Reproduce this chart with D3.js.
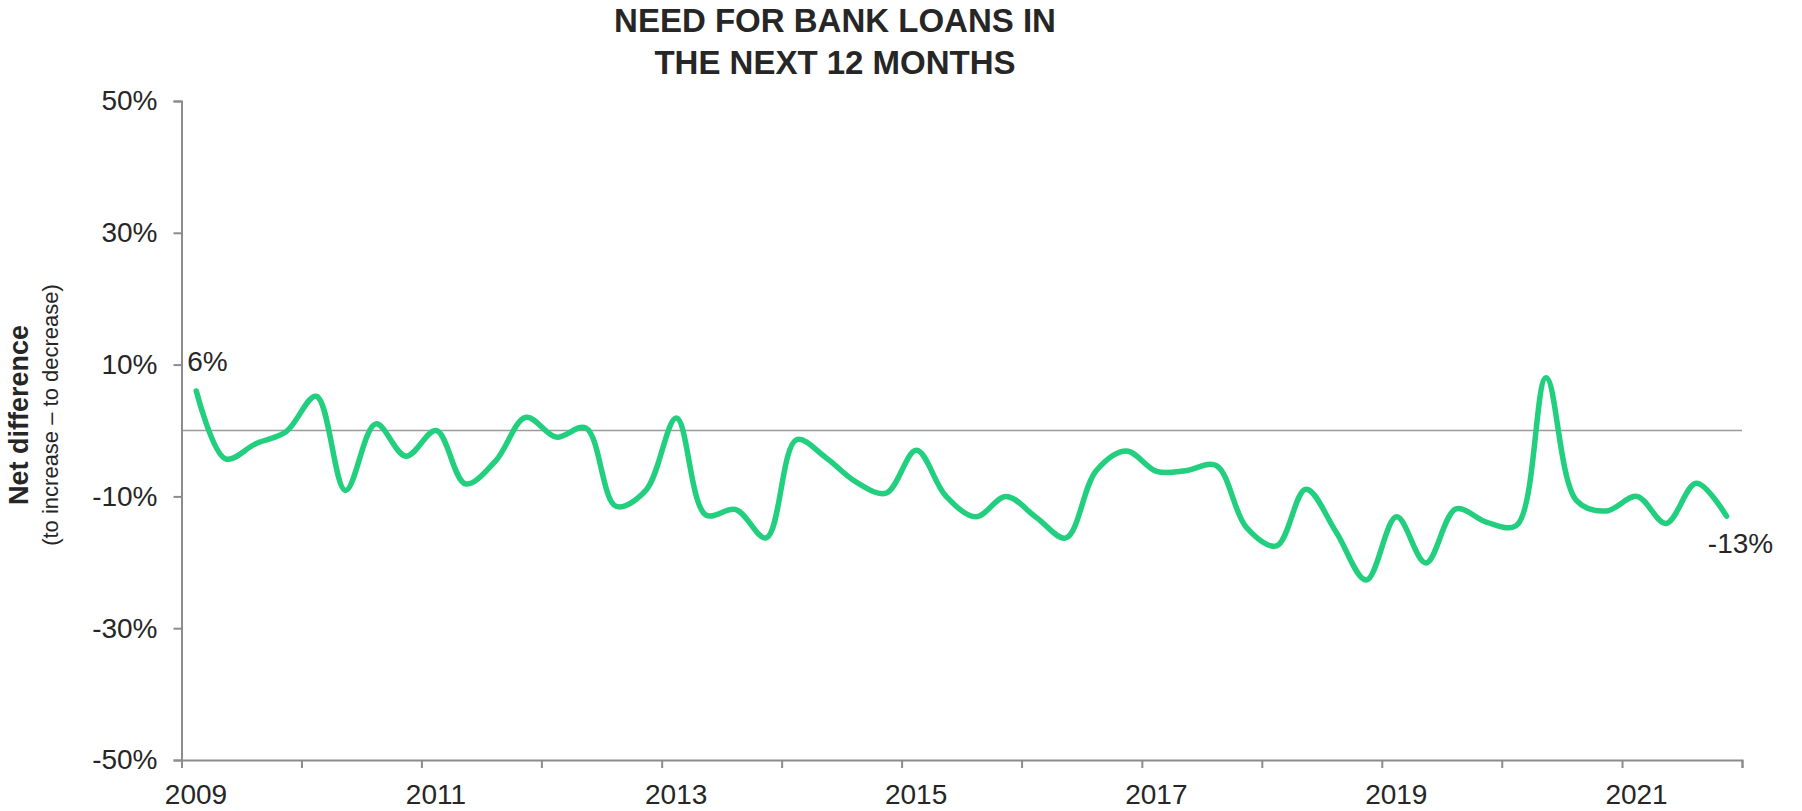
<!DOCTYPE html>
<html>
<head>
<meta charset="utf-8">
<script src="https://cdn.jsdelivr.net/npm/d3@7"></script>
<style>
  html, body { margin: 0; padding: 0; background: #ffffff; }
  svg { display: block; }
  text { font-family: "Liberation Sans", Arial, Helvetica, sans-serif; fill: #262626; }
</style>
</head>
<body>
<svg id="chart" width="1802" height="811"></svg>
<script>
// Survey periods: one reading per quarter, mid-quarter months
const years = d3.range(2009, 2022);
const months = ["02", "05", "08", "11"];
const periods = years.flatMap(y => months.map(m => `${y}-${m}-15`));

// Net difference, % of firms expecting their need for bank loans to increase minus decrease
const netDifference = [
   6.0,  -4.3,  -2.0,  -0.2,
   5.2,  -9.1,   1.0,  -3.9,
   0.0,  -8.1,  -4.6,   2.0,
  -1.0,   0.4, -11.5,  -9.0,
   1.9, -12.8, -12.0, -16.3,
  -1.4,  -4.1,  -7.8,  -9.5,
  -3.0,  -9.9, -13.1, -10.0,
 -13.2, -16.3,  -6.1,  -3.1,
  -6.2,  -6.1,  -5.3, -14.7,
 -17.5,  -8.9, -15.4, -22.7,
 -13.1, -20.1, -11.9, -13.9,
 -14.4,   8.0, -10.6, -12.2,
 -10.0, -14.1,  -8.0, -13.0
];

const yTicks = [-50, -30, -10, 10, 30, 50];
const xLabelYears = [2009, 2011, 2013, 2015, 2017, 2019, 2021];
const titleLines = ["NEED FOR BANK LOANS IN", "THE NEXT 12 MONTHS"];

const parse = d3.timeParse("%Y-%m-%d");
const data = periods.map((p, i) => ({ date: parse(p), value: netDifference[i] }));

const svg = d3.select("#chart");
const axisColor = "#8c8c8c";
const lineColor = "#22cf7e";

const x = d3.scaleTime()
  .domain([new Date(2009, 0, 1), new Date(2022, 0, 1)])
  .range([181.5, 1742]);
const y = d3.scaleLinear()
  .domain([-50, 50])
  .range([760, 101]);

// Title
svg.append("text")
  .attr("x", 835)
  .attr("text-anchor", "middle")
  .style("font-weight", "bold")
  .style("font-size", "33px")
  .selectAll("tspan")
  .data(titleLines)
  .join("tspan")
  .attr("x", 835)
  .attr("y", (d, i) => 32 + i * 42)
  .text(d => d);

// Zero reference line
svg.append("line")
  .attr("x1", x.range()[0]).attr("x2", x.range()[1])
  .attr("y1", y(0)).attr("y2", y(0))
  .attr("stroke", "#9a9a9a")
  .attr("stroke-width", 1.5);

// Y axis
const yAxis = svg.append("g")
  .attr("transform", `translate(${x.range()[0]},0)`)
  .call(d3.axisLeft(y).tickValues(yTicks).tickSize(8).tickPadding(16).tickFormat(d => d + "%"));
yAxis.select(".domain").attr("stroke", axisColor).attr("stroke-width", 2);
yAxis.selectAll(".tick line").attr("stroke", axisColor).attr("stroke-width", 2);
yAxis.selectAll(".tick text").style("font-size", "28px").attr("fill", "#262626");

// X axis: a tick every year, labels on alternate years
const xAxis = svg.append("g")
  .attr("transform", `translate(0,${y(-50)})`)
  .call(d3.axisBottom(x)
    .ticks(d3.timeYear.every(1))
    .tickSize(8)
    .tickFormat(d => xLabelYears.includes(d.getFullYear()) ? String(d.getFullYear()) : ""));
xAxis.select(".domain").attr("stroke", axisColor).attr("stroke-width", 2);
xAxis.selectAll(".tick line").attr("stroke", axisColor).attr("stroke-width", 2);
xAxis.selectAll(".tick text")
  .style("font-size", "28px")
  .attr("fill", "#262626")
  .attr("dx", 14)
  .attr("dy", 0)
  .attr("y", 44);

// Y axis title
const yTitle = svg.append("g").attr("transform", "translate(0,415) rotate(-90)");
yTitle.append("text")
  .attr("x", 0).attr("y", 28)
  .attr("text-anchor", "middle")
  .style("font-weight", "bold")
  .style("font-size", "27px")
  .text("Net difference");
yTitle.append("text")
  .attr("x", 0).attr("y", 58)
  .attr("text-anchor", "middle")
  .style("font-size", "22px")
  .text("(to increase \u2013 to decrease)");

// Smoothed series line
const line = d3.line()
  .x(d => x(d.date))
  .y(d => y(d.value))
  .curve(d3.curveCatmullRom.alpha(0.5));

svg.append("path")
  .datum(data)
  .attr("fill", "none")
  .attr("stroke", lineColor)
  .attr("stroke-width", 5.5)
  .attr("stroke-linecap", "round")
  .attr("stroke-linejoin", "round")
  .attr("d", line);

// First and last value labels
const first = data[0];
const last = data[data.length - 1];
const fmt = v => Math.round(v) + "%";
svg.append("text")
  .attr("x", x(first.date) - 9)
  .attr("y", y(first.value) - 20)
  .style("font-size", "28px")
  .text(fmt(first.value));
svg.append("text")
  .attr("x", x(last.date) + 14)
  .attr("y", y(last.value) + 37)
  .attr("text-anchor", "middle")
  .style("font-size", "28px")
  .text(fmt(last.value));
</script>
</body>
</html>
